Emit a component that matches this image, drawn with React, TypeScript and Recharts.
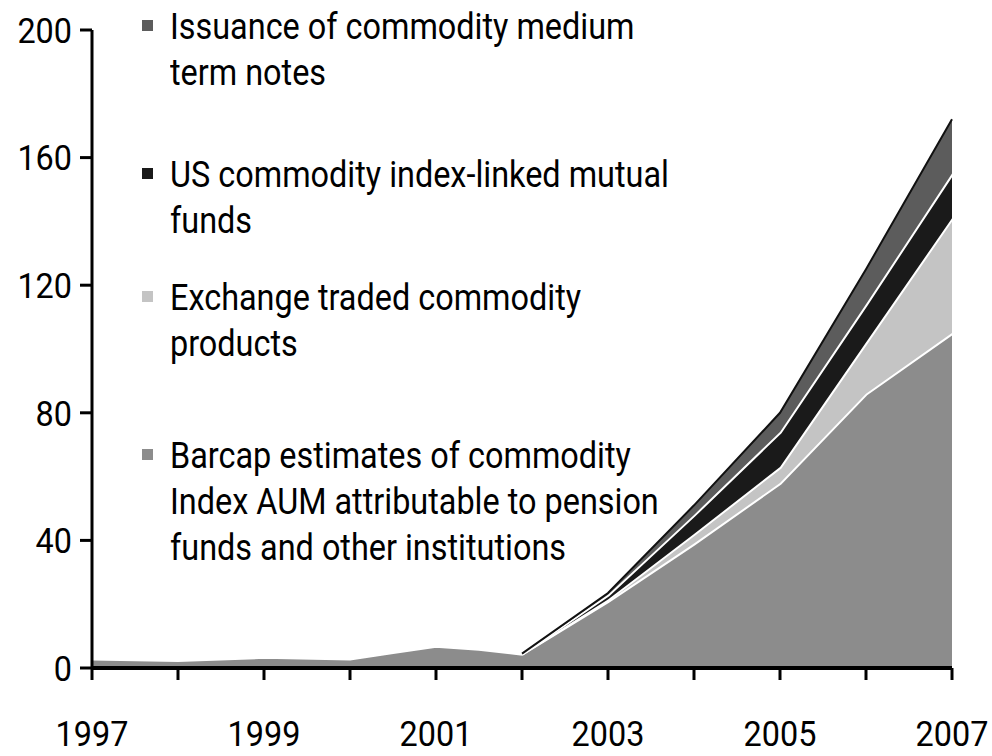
import { AreaChart, Area, XAxis, YAxis } from 'recharts';

const years = [1997, 1998, 1999, 2000, 2000.5, 2001, 2001.5, 2002, 2003, 2004, 2005, 2006, 2007];
const pensionAum = [3, 2.5, 3.5, 3, 5, 7, 6, 4.5, 21, 39, 58, 86, 105];
const exchangeTraded = [null, null, null, null, null, null, null, 0, 0.5, 3, 5, 16, 36];
const mutualFunds = [null, null, null, null, null, null, null, 0, 1.5, 6, 11, 12, 14];
const mediumTermNotes = [null, null, null, null, null, null, null, 0, 0.5, 3, 6, 11, 17];

const yTicks = [0, 40, 80, 120, 160, 200];
const xTicks = [1997, 1998, 1999, 2000, 2001, 2002, 2003, 2004, 2005, 2006, 2007];

const legendItems = [
  { lines: ['Issuance of commodity medium', 'term notes'], color: '#5c5c5c', top: 4 },
  { lines: ['US commodity index-linked mutual', 'funds'], color: '#1a1a1a', top: 152 },
  { lines: ['Exchange traded commodity', 'products'], color: '#c4c4c4', top: 275 },
  { lines: ['Barcap estimates of commodity', 'Index AUM attributable to pension', 'funds and other institutions'], color: '#8c8c8c', top: 433 },
];

const data = years.map((year, i) => ({
  year,
  pension: pensionAum[i],
  etc: exchangeTraded[i],
  mutual: mutualFunds[i],
  mtn: mediumTermNotes[i],
}));

const font = 'Roboto, sans-serif';

// narrow tick text, the source uses a condensed face
function Tick({ x, y, payload, textAnchor, dy, formatter }: any) {
  const label = formatter ? formatter(payload.value) : String(payload.value);
  return (
    <g transform={`translate(${x},${y}) scale(0.9,1)`}>
      <text x={0} y={0} dy={dy} textAnchor={textAnchor} fill="#000" fontSize={36} fontFamily={font}>
        {label}
      </text>
    </g>
  );
}

const yearLabel = (v: number) => (v % 2 === 1 ? String(v) : '');

export default function App() {
  return (
    <div style={{ position: 'absolute', left: 0, top: 0, width: 992, height: 756, background: '#fff', fontFamily: font }}>
      <AreaChart width={992} height={756} data={data} margin={{ top: 30, right: 40, left: 0, bottom: 0 }}>
        <XAxis
          dataKey="year"
          type="number"
          domain={[1997, 2007]}
          ticks={xTicks}
          height={88}
          tickSize={12}
          tickMargin={40}
          axisLine={{ stroke: '#000', strokeWidth: 4 }}
          tickLine={{ stroke: '#000', strokeWidth: 3 }}
          tick={<Tick formatter={yearLabel} dy="0.71em" />}
          interval={0}
        />
        <YAxis
          domain={[0, 200]}
          ticks={yTicks}
          width={92}
          tickSize={12}
          tickMargin={8}
          axisLine={{ stroke: '#000', strokeWidth: 3 }}
          tickLine={{ stroke: '#000', strokeWidth: 3 }}
          tick={<Tick dy="0.355em" />}
          interval={0}
        />
        <Area type="linear" dataKey="pension" stackId="a" fill="#8c8c8c" fillOpacity={1} stroke="#fff" strokeWidth={4} isAnimationActive={false} />
        <Area type="linear" dataKey="etc" stackId="a" fill="#c4c4c4" fillOpacity={1} stroke="#fff" strokeWidth={4} isAnimationActive={false} />
        <Area type="linear" dataKey="mutual" stackId="a" fill="#1a1a1a" fillOpacity={1} stroke="#fff" strokeWidth={4} isAnimationActive={false} />
        <Area type="linear" dataKey="mtn" stackId="a" fill="#5c5c5c" fillOpacity={1} stroke="#111" strokeWidth={2} isAnimationActive={false} />
      </AreaChart>
      {legendItems.map((item) => (
        <div key={item.color} style={{ position: 'absolute', left: 142, top: item.top }}>
          <div style={{ position: 'absolute', left: 0, top: 16, width: 11, height: 11, background: item.color }} />
          {item.lines.map((line) => (
            <div
              key={line}
              style={{ marginLeft: 28, fontSize: 36, lineHeight: '46px', color: '#000', whiteSpace: 'nowrap', transform: 'scaleX(0.9)', transformOrigin: 'left center' }}
            >
              {line}
            </div>
          ))}
        </div>
      ))}
    </div>
  );
}
